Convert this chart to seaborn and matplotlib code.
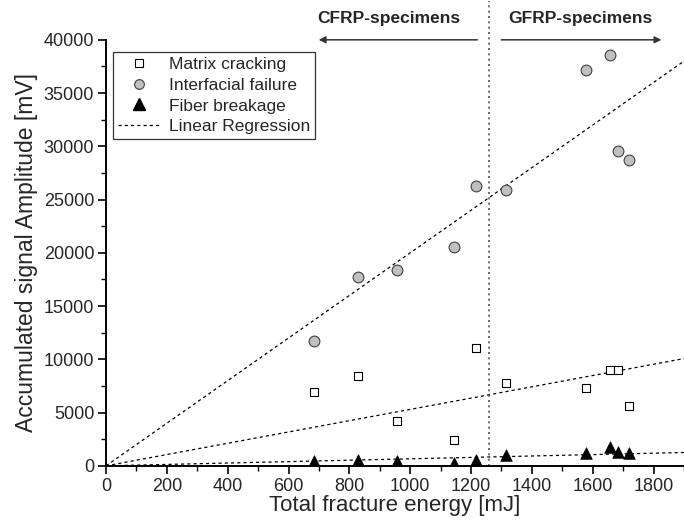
import numpy as np
import pandas as pd
import matplotlib
matplotlib.use("Agg")
import matplotlib.pyplot as plt
from matplotlib.ticker import MultipleLocator
import seaborn as sns

# values
energy = [683, 828, 958, 1145, 1215, 1315, 1578, 1657, 1682, 1718]
matrix_cracking = [6950, 8450, 4200, 2450, 11050, 7750, 7350, 9000, 9000, 5650]
interfacial_failure = [11750, 17700, 18350, 20550, 26250, 25900, 37200, 38600, 29600, 28700]
fiber_breakage = [450, 550, 500, 250, 550, 1000, 1250, 1750, 1300, 1250]

# slopes of the regression lines (through origin)
fit_x = [0, 1900]
slopes = {"Matrix cracking": 5.3, "Interfacial failure": 20.0, "Fiber breakage": 0.66}

split_energy = 1260

sns.set_style("ticks")
plt.rcParams['font.family'] = ['Liberation Sans', 'DejaVu Sans']

fig = plt.figure(figsize=(6.84, 5.24), dpi=100)
ax = fig.add_axes([0.155, 0.111, 0.845, 0.813])

df = pd.DataFrame({"energy": energy,
                   "Matrix cracking": matrix_cracking,
                   "Interfacial failure": interfacial_failure,
                   "Fiber breakage": fiber_breakage})

# regression lines
for name, k in slopes.items():
    fit = pd.DataFrame({"x": fit_x, "y": [k * v for v in fit_x]})
    sns.lineplot(data=fit, x="x", y="y", ax=ax, color="black", lw=0.9,
                 linestyle=(0, (2.5, 2.5)), zorder=1)

sns.scatterplot(data=df, x="energy", y="Matrix cracking", ax=ax, marker="s", s=36,
                facecolor="white", edgecolor="black", linewidth=0.8, zorder=3)
sns.scatterplot(data=df, x="energy", y="Interfacial failure", ax=ax, marker="o", s=60,
                facecolor="#c0c0c0", edgecolor="#404040", linewidth=0.8, zorder=3)
sns.scatterplot(data=df, x="energy", y="Fiber breakage", ax=ax, marker="^", s=70,
                color="black", edgecolor="black", linewidth=0.5, zorder=3)

# separator line
ax.axvline(split_energy, color="#555555", lw=1.2, linestyle=(0, (1.2, 2)), zorder=1,
           clip_on=False, ymax=1.09)

# legend handles
h = [plt.Line2D([], [], marker="s", ls="none", mfc="white", mec="black", ms=6, mew=0.8),
     plt.Line2D([], [], marker="o", ls="none", mfc="#c0c0c0", mec="#404040", ms=7, mew=0.8),
     plt.Line2D([], [], marker="^", ls="none", mfc="black", mec="black", ms=8),
     plt.Line2D([], [], color="black", lw=0.9, ls=(0, (2.5, 2.5)))]
leg = ax.legend(h, ["Matrix cracking", "Interfacial failure", "Fiber breakage", "Linear Regression"],
                loc="upper left", bbox_to_anchor=(0.012, 0.972), fontsize=12.5, frameon=True,
                fancybox=False, edgecolor="black", borderpad=0.3, labelspacing=0.32,
                handlelength=2.4, handletextpad=0.5, borderaxespad=0)
leg.get_frame().set_linewidth(0.9)

# arrows and group labels above the plot area
ax.annotate("", xy=(690, 40000), xytext=(1230, 40000), annotation_clip=False,
            arrowprops=dict(arrowstyle="-|>", color="#333333", lw=1.1, mutation_scale=10))
ax.annotate("", xy=(1835, 40000), xytext=(1290, 40000), annotation_clip=False,
            arrowprops=dict(arrowstyle="-|>", color="#333333", lw=1.1, mutation_scale=10))
ax.text(930, 41300, "CFRP-specimens", ha="center", va="bottom", fontsize=12.5, fontweight="bold")
ax.text(1560, 41300, "GFRP-specimens", ha="center", va="bottom", fontsize=12.5, fontweight="bold")

ax.set_xlim(0, 1900)
ax.set_ylim(0, 40000)
ax.xaxis.set_major_locator(MultipleLocator(200))
ax.xaxis.set_minor_locator(MultipleLocator(100))
ax.yaxis.set_major_locator(MultipleLocator(5000))
ax.yaxis.set_minor_locator(MultipleLocator(2500))
ax.tick_params(which="major", direction="out", length=6, width=1.2, labelsize=13, color="black",
               pad=2.5)
ax.tick_params(which="minor", direction="out", length=3.5, width=1.0, color="black")

sns.despine(ax=ax)
for s in ["left", "bottom"]:
    ax.spines[s].set_linewidth(1.4)
    ax.spines[s].set_color("black")

ax.set_xlabel("Total fracture energy [mJ]", fontsize=16, labelpad=0)
ax.set_ylabel("Accumulated signal Amplitude [mV]", fontsize=16.5, labelpad=4)

fig.savefig("out.png", dpi=100)
